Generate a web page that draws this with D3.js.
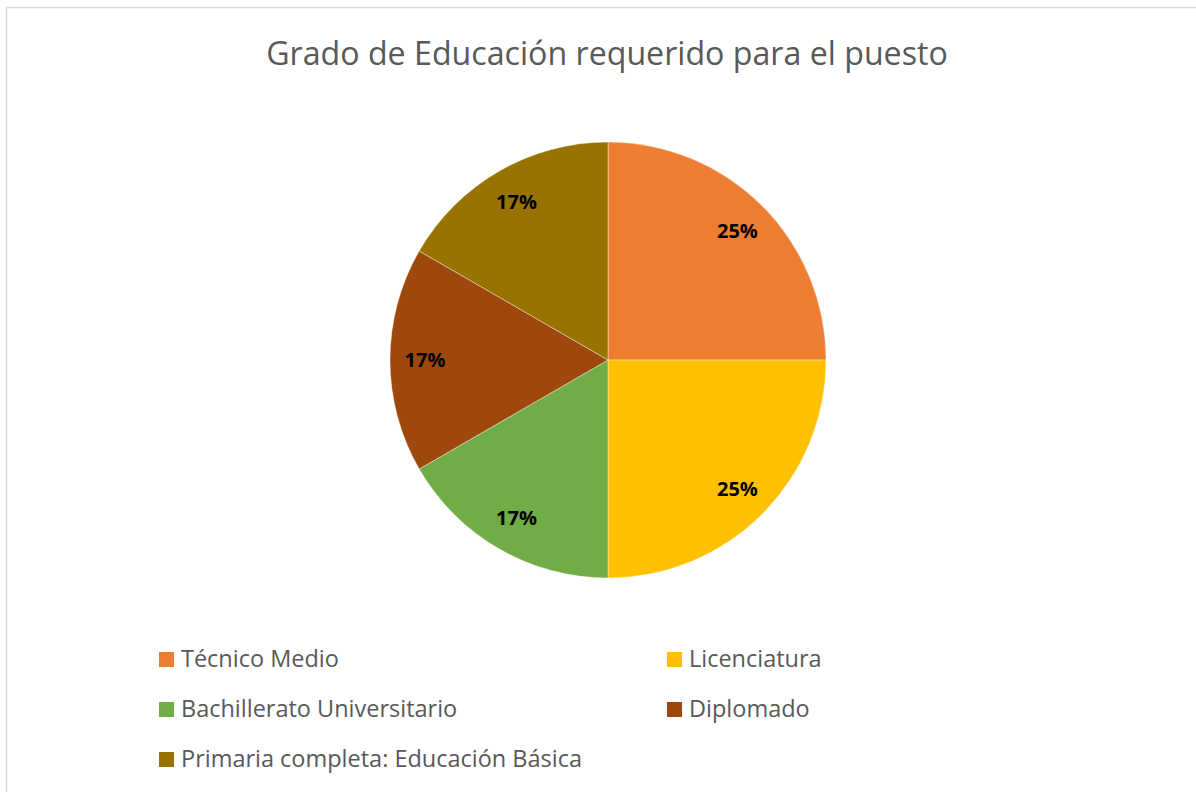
<!DOCTYPE html>
<html>
<head>
<meta charset="utf-8">
<script src="https://cdn.jsdelivr.net/npm/d3@7"></script>
<style>
  body { margin: 0; background: #fff; }
  svg { display: block; }
  text { font-family: "Open Sans", "Noto Sans", sans-serif; }
</style>
</head>
<body>
<div id="chart"></div>
<script>
// chart data
const categories = ['Técnico Medio', 'Licenciatura', 'Bachillerato Universitario', 'Diplomado', 'Primaria completa: Educación Básica'];
const values = [3, 3, 2, 2, 2];
const colors = ['#ED7D31', '#FFC000', '#70AD47', '#9E480E', '#997300'];
const title = 'Grado de Educación requerido para el puesto';

const width = 1196, height = 792;
const cx = 608, cy = 360, radius = 218;

const svg = d3.select('#chart').append('svg')
  .attr('width', width)
  .attr('height', height);

// chart area border (only top and left visible in the crop)
svg.append('path')
  .attr('d', 'M6.5,' + height + 'V7.5H' + width)
  .attr('fill', 'none')
  .attr('stroke', '#d9d9d9')
  .attr('stroke-width', 1.5);

// fit text to a target width
function fitWidth(sel, target) {
  const w = sel.node().getComputedTextLength();
  const fs = parseFloat(sel.attr('font-size'));
  sel.attr('font-size', fs * target / w);
}

const titleText = svg.append('text')
  .attr('x', 607)
  .attr('y', 65)
  .attr('text-anchor', 'middle')
  .attr('font-size', 35)
  .attr('fill', '#595959')
  .text(title);
fitWidth(titleText, 682);

const pie = d3.pie().sort(null).value(d => d);
const arcs = pie(values);
const arc = d3.arc().innerRadius(0).outerRadius(radius);
const labelArc = d3.arc().innerRadius(183).outerRadius(183);

const g = svg.append('g').attr('transform', 'translate(' + cx + ',' + cy + ')');

g.selectAll('path.slice')
  .data(arcs)
  .enter().append('path')
  .classed('slice', true)
  .attr('d', arc)
  .attr('fill', (d, i) => colors[i])
  .attr('stroke', '#fff')
  .attr('stroke-width', 0.4);

const total = d3.sum(values);
g.selectAll('text.label')
  .data(arcs)
  .enter().append('text')
  .classed('label', true)
  .attr('transform', d => 'translate(' + labelArc.centroid(d) + ')')
  .attr('text-anchor', 'middle')
  .attr('dy', '0.35em')
  .attr('font-size', 20)
  .attr('font-weight', 'bold')
  .attr('fill', '#000')
  .text(d => d3.format('.0%')(d.data / total));

// legend, two columns
const legend = svg.append('g');
const items = legend.selectAll('g.item')
  .data(categories)
  .enter().append('g')
  .classed('item', true)
  .attr('transform', (d, i) => 'translate(' + (i % 2 ? 667 : 159) + ',' + (652 + Math.floor(i / 2) * 50) + ')');

items.append('rect')
  .attr('width', 15)
  .attr('height', 15)
  .attr('fill', (d, i) => colors[i]);

const legendText = items.append('text')
  .attr('x', 22)
  .attr('y', 15)
  .attr('font-size', 22)
  .attr('fill', '#595959')
  .text(d => d);
fitWidth(d3.select(legendText.nodes()[0]), 158);
legendText.attr('font-size', d3.select(legendText.nodes()[0]).attr('font-size'));
</script>
</body>
</html>
